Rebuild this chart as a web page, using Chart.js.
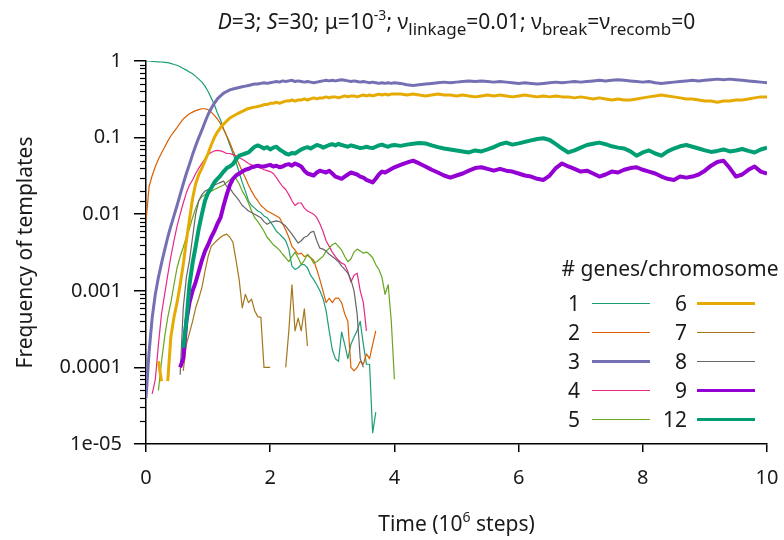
<!DOCTYPE html>
<html><head><meta charset="utf-8">
<script src="https://cdn.jsdelivr.net/npm/chart.js@4.4.1/dist/chart.umd.min.js"></script>
<style>
html,body{margin:0;padding:0;background:#fff;}
#wrap{position:relative;width:784px;height:540px;font-family:"Noto Sans",sans-serif;color:#1a1a1a;overflow:hidden;}
canvas{position:absolute;left:0;top:0;}
.title{position:absolute;left:146px;width:621px;top:6px;text-align:center;font-size:21px;line-height:30px;white-space:nowrap;}
.xtitle{position:absolute;left:146px;width:621px;top:509px;text-align:center;font-size:21px;line-height:28px;white-space:nowrap;}
sup{font-size:14px;line-height:0;vertical-align:9px;}
sub{font-size:17px;line-height:0;vertical-align:-6px;}
.lghead{position:absolute;left:540px;width:260px;top:254px;text-align:center;font-size:21px;line-height:28px;white-space:nowrap;}
.lgnum{position:absolute;text-align:right;font-size:21px;line-height:28px;}
.lgline{position:absolute;}
</style></head>
<body>
<div id="wrap">
<canvas id="c" width="784" height="540"></canvas>
<div class="title"><i>D</i>=3; <i>S</i>=30; μ=10<sup>-3</sup>; ν<sub>linkage</sub>=0.01; ν<sub>break</sub>=ν<sub>recomb</sub>=0</div>
<div class="xtitle">Time (10<sup>6</sup> steps)</div>
<div class="lghead"># genes/chromosome</div>
<div id="legend"></div>
</div>
<script>
// time in units of 10^6 steps
const time = [
0,0.05,0.1,0.15,0.2,0.25,0.3,0.35,0.4,0.45,
0.5,0.55,0.6,0.65,0.7,0.75,0.8,0.85,0.9,0.95,
1,1.05,1.1,1.15,1.2,1.25,1.3,1.35,1.4,1.45,
1.5,1.55,1.6,1.65,1.7,1.75,1.8,1.85,1.9,1.95,
2,2.05,2.1,2.15,2.2,2.25,2.3,2.35,2.4,2.45,
2.5,2.55,2.6,2.65,2.7,2.75,2.8,2.85,2.9,2.95,
3,3.05,3.1,3.15,3.2,3.25,3.3,3.35,3.4,3.45,
3.5,3.55,3.6,3.65,3.7,3.75,3.8,3.85,3.9,3.95,
4,
4.1,4.2,4.3,4.4,4.5,4.6,4.7,4.8,4.9,5,
5.1,5.2,5.3,5.4,5.5,5.6,5.7,5.8,5.9,6,
6.1,6.2,6.3,6.4,6.5,6.6,6.7,6.8,6.9,7,
7.1,7.2,7.3,7.4,7.5,7.6,7.7,7.8,7.9,8,
8.1,8.2,8.3,8.4,8.5,8.6,8.7,8.8,8.9,9,
9.1,9.2,9.3,9.4,9.5,9.6,9.7,9.8,9.9,10];

const g1 = [
1,1,0.99,0.98,0.975,0.97,0.96,0.95,0.93,0.9,
0.88,0.84,0.8,0.76,0.72,0.68,0.63,0.58,0.53,0.47,
0.4,0.33,0.27,0.21,0.17,0.13,0.105,0.08,0.062,0.048,
0.035,0.026,0.02,0.015,0.013,0.012,0.011,0.0105,0.0095,0.009,
0.008,0.007,0.006,0.0055,0.005,0.0045,0.0035,0.0021,0.0019,0.002,
0.0022,0.0022,0.002,0.0016,0.0014,0.0012,0.001,0.0008,0.00055,0.0003,
0.00017,0.00013,0.00012,0.00029,0.0002,0.00013,0.0002,0.00025,0.0003,0.0004,
0.0002,0.00011,0.00011,0.000014,0.000026];

const g2 = [
0.008,0.023,0.032,0.042,0.052,0.063,0.075,0.09,0.105,0.12,
0.135,0.155,0.175,0.19,0.205,0.215,0.225,0.232,0.238,0.238,
0.232,0.215,0.195,0.175,0.152,0.128,0.105,0.086,0.068,0.055,
0.045,0.036,0.03,0.024,0.02,0.017,0.015,0.013,0.012,0.011,
0.0105,0.01,0.0095,0.009,0.0075,0.0062,0.005,0.0038,0.0034,0.003,
0.0031,0.0028,0.0029,0.0027,0.0025,0.0019,0.0014,0.001,0.0007,0.0008,
0.0007,0.0008,0.0008,0.0007,0.0005,0.0004,0.0001,0.00009,0.0001,0.00012,
0.00011,0.00015,0.00013,0.0002,0.0003];

const g3 = [
0.00004,0.00016,0.00045,0.0009,0.0015,0.0023,0.0034,0.005,0.007,0.0095,
0.013,0.018,0.025,0.034,0.045,0.06,0.078,0.1,0.125,0.16,
0.2,0.24,0.28,0.32,0.35,0.38,0.4,0.42,0.43,0.44,
0.45,0.46,0.47,0.48,0.49,0.5,0.5,0.51,0.52,0.51,
0.52,0.53,0.54,0.53,0.55,0.54,0.55,0.56,0.54,0.55,
0.54,0.53,0.54,0.53,0.52,0.53,0.54,0.55,0.56,0.55,
0.56,0.55,0.56,0.57,0.56,0.55,0.54,0.55,0.54,0.53,
0.54,0.53,0.52,0.53,0.52,0.51,0.52,0.51,0.52,0.51,
0.52,
0.51,0.49,0.48,0.49,0.5,0.51,0.52,0.53,0.52,0.53,
0.54,0.55,0.54,0.55,0.54,0.53,0.54,0.53,0.52,0.51,
0.52,0.51,0.5,0.51,0.52,0.53,0.52,0.53,0.54,0.53,
0.54,0.55,0.56,0.55,0.56,0.57,0.56,0.55,0.54,0.53,
0.54,0.52,0.51,0.52,0.53,0.54,0.55,0.56,0.55,0.56,
0.57,0.58,0.57,0.58,0.57,0.56,0.55,0.54,0.53,0.52];

const g4 = [
null,null,0.000045,0.00007,0.0002,0.0005,0.0009,0.0016,0.0028,0.0045,
0.007,0.01,0.014,0.019,0.024,0.028,0.034,0.04,0.046,0.053,
0.06,0.064,0.067,0.068,0.067,0.065,0.062,0.062,0.06,0.058,
0.055,0.052,0.049,0.046,0.044,0.042,0.041,0.04,0.038,0.037,
0.036,0.034,0.03,0.026,0.023,0.021,0.018,0.015,0.013,0.014,
0.014,0.012,0.011,0.0105,0.01,0.009,0.0075,0.006,0.0045,0.0038,
0.0032,0.0028,0.0025,0.0023,0.0022,0.0018,0.0013,0.0016,0.0017,0.001,
0.0007,0.0003];

const g5 = [
null,null,null,null,0.00005,0.00012,0.00025,0.00045,0.0007,0.0012,
0.002,0.0028,0.0037,0.005,0.0065,0.009,0.012,0.015,0.017,0.018,
0.019,0.02,0.021,0.022,0.023,0.024,0.026,0.028,0.03,0.029,
0.025,0.02,0.017,0.014,0.011,0.009,0.008,0.007,0.006,0.005,
0.0045,0.004,0.0037,0.0034,0.003,0.0027,0.0024,0.0028,0.0032,0.0027,
0.0022,0.0025,0.003,0.0027,0.0023,0.0024,0.0026,0.0028,0.0033,0.0036,
0.004,0.0042,0.0038,0.0034,0.0028,0.0024,0.0026,0.0032,0.0035,0.0033,
0.0031,0.0032,0.003,0.0027,0.0022,0.0019,0.0015,0.0009,0.0012,0.0004,
0.00007];

const g6 = [
null,null,null,null,0.00012,0.000066,null,0.000066,0.00025,0.00045,
0.0007,0.0012,0.0022,0.0045,0.0085,0.016,0.025,0.033,0.04,0.05,
0.062,0.08,0.1,0.118,0.135,0.15,0.165,0.18,0.19,0.2,
0.21,0.22,0.23,0.24,0.245,0.25,0.255,0.26,0.27,0.27,
0.28,0.28,0.29,0.28,0.29,0.3,0.3,0.31,0.3,0.31,
0.31,0.32,0.31,0.32,0.33,0.32,0.33,0.33,0.34,0.33,
0.34,0.34,0.33,0.34,0.35,0.34,0.35,0.35,0.34,0.35,
0.36,0.35,0.36,0.35,0.36,0.37,0.36,0.37,0.36,0.37,
0.37,
0.37,0.36,0.37,0.36,0.35,0.36,0.37,0.36,0.36,0.35,
0.36,0.35,0.34,0.35,0.36,0.35,0.36,0.35,0.34,0.35,
0.36,0.35,0.34,0.35,0.34,0.35,0.34,0.34,0.33,0.34,
0.33,0.32,0.33,0.32,0.31,0.32,0.31,0.31,0.32,0.33,
0.34,0.35,0.36,0.35,0.34,0.33,0.32,0.32,0.31,0.3,
0.3,0.29,0.3,0.3,0.31,0.31,0.32,0.33,0.34,0.34];

const g7 = [
null,null,null,null,null,null,null,null,null,null,
null,null,0.00009,0.0002,0.00028,0.0004,0.0006,0.0008,0.0011,0.0018,
0.0028,0.0038,0.0042,0.0046,0.005,0.0053,0.0055,0.005,0.0043,0.0025,
0.0014,0.0006,0.0009,0.0007,0.00078,0.00055,0.00046,0.00045,0.0001,0.0001,
0.0001,null,null,null,null,0.0001,0.0003,0.0012,0.0003,0.00044,
0.0003,0.00058,0.00019];

const g8 = [
null,null,null,null,null,null,null,null,null,null,
null,0.00008,0.0006,0.0015,0.0025,0.005,0.01,0.015,0.018,0.02,
0.021,0.022,0.024,0.025,0.026,0.027,0.023,0.022,0.019,0.017,
0.015,0.013,0.012,0.011,0.0105,0.01,0.0095,0.009,0.008,0.0074,
0.0078,0.008,0.0082,0.008,0.0075,0.007,0.0062,0.0055,0.0048,0.0042,
0.0045,0.005,0.0052,0.0058,0.006,0.0045,0.0036,0.0035,0.0033,0.003,
0.0028,0.0026,0.0024,0.0021,0.0019,0.0017,0.0014,0.001,0.0005,0.00013,
0.0001];

const g9 = [
null,null,null,null,null,null,null,null,null,null,
null,0.0001,0.00013,0.0004,0.0007,0.001,0.0013,0.0018,0.0025,0.0033,
0.004,0.005,0.006,0.0075,0.009,0.013,0.018,0.024,0.029,0.032,
0.034,0.036,0.038,0.039,0.041,0.042,0.043,0.042,0.042,0.043,
0.044,0.042,0.043,0.041,0.042,0.044,0.045,0.043,0.046,0.044,
0.042,0.037,0.034,0.033,0.032,0.035,0.037,0.036,0.035,0.037,
0.034,0.031,0.03,0.029,0.031,0.033,0.035,0.034,0.033,0.031,
0.03,0.028,0.027,0.026,0.029,0.033,0.036,0.035,0.037,0.039,
0.041,
0.044,0.047,0.05,0.046,0.042,0.038,0.035,0.032,0.03,0.032,
0.034,0.037,0.04,0.041,0.039,0.037,0.039,0.037,0.036,0.034,
0.032,0.031,0.029,0.028,0.032,0.04,0.046,0.042,0.039,0.036,
0.037,0.034,0.031,0.033,0.036,0.035,0.038,0.04,0.041,0.038,
0.036,0.034,0.031,0.029,0.028,0.031,0.03,0.031,0.033,0.037,
0.043,0.048,0.05,0.04,0.031,0.033,0.038,0.042,0.036,0.034];

const g12 = [
null,null,null,null,null,null,null,null,null,null,
null,null,0.00018,0.0004,0.0012,0.0023,0.0038,0.0065,0.01,0.015,
0.019,0.022,0.026,0.029,0.032,0.036,0.04,0.042,0.045,0.052,
0.058,0.06,0.062,0.064,0.07,0.076,0.079,0.076,0.072,0.075,
0.07,0.074,0.076,0.07,0.066,0.062,0.06,0.063,0.062,0.066,
0.07,0.073,0.075,0.072,0.076,0.08,0.078,0.074,0.077,0.08,
0.082,0.079,0.083,0.08,0.078,0.076,0.079,0.077,0.075,0.073,
0.074,0.076,0.074,0.073,0.076,0.079,0.081,0.078,0.076,0.079,
0.08,
0.078,0.081,0.083,0.085,0.084,0.079,0.075,0.072,0.07,0.068,
0.066,0.064,0.068,0.066,0.07,0.075,0.082,0.086,0.081,0.084,
0.088,0.092,0.096,0.098,0.093,0.082,0.072,0.064,0.068,0.074,
0.08,0.083,0.086,0.082,0.077,0.074,0.072,0.066,0.058,0.064,
0.068,0.062,0.058,0.066,0.072,0.077,0.08,0.076,0.072,0.068,
0.065,0.067,0.07,0.066,0.068,0.071,0.067,0.064,0.07,0.074];

const seriesLabels = ['1','2','3','4','5','6','7','8','9','12'];
const seriesValues = [g1,g2,g3,g4,g5,g6,g7,g8,g9,g12];
const yTickLabels = ['1e-05','0.0001','0.001','0.01','0.1','1'];
const xTickStep = 2;

// styles
const seriesColors = ['#1b9e77','#d95f02','#7570b3','#e7298a','#66a61e','#e6ab02','#a6761d','#666666','#9400d3','#009e73'];
const seriesWidths = [1.2,1.2,3,1.2,1.2,3,1.2,1.2,4,4];
const FONT = {family:'"Noto Sans", sans-serif', size:20};
const TFONT = {family:'"Noto Sans", sans-serif', size:21};
const TXT = '#1a1a1a';

const isMajor = v => Math.abs(Math.log10(v) - Math.round(Math.log10(v))) < 1e-6;

const datasets = seriesValues.map((vals,i)=>({
  label: seriesLabels[i],
  data: vals.map((v,j)=>({x: time[j], y: v})),
  borderColor: seriesColors[i],
  borderWidth: seriesWidths[i],
  pointRadius: 0,
  fill: false,
  spanGaps: false,
  tension: 0,
  order: seriesValues.length - i
}));

const minorTicks = {
  id:'minorTicks',
  afterDraw(chart){
    const ys = chart.scales.y, c = chart.ctx, x0 = chart.chartArea.left;
    c.save(); c.strokeStyle = '#000'; c.lineWidth = 1.2;
    ys.ticks.forEach(t => {
      if (!isMajor(t.value)) {
        const p = Math.round(ys.getPixelForValue(t.value)) + 0.5;
        c.beginPath(); c.moveTo(x0 - 6, p); c.lineTo(x0, p); c.stroke();
      }
    });
    c.restore();
  }
};

new Chart(document.getElementById('c'), {
  type: 'line',
  data: { datasets },
  options: {
    responsive: false, animation: false, devicePixelRatio: 1,
    layout: { padding: { left: 0, right: 17, top: 61, bottom: 0 } },
    plugins: { legend: { display: false }, tooltip: { enabled: false }, title: { display: false } },
    elements: { point: { radius: 0 }, line: { tension: 0, borderJoinStyle: 'round' } },
    scales: {
      x: {
        type: 'linear', min: 0, max: 10,
        ticks: { stepSize: xTickStep, color: TXT, font: FONT, padding: 14, maxRotation: 0 },
        grid: { drawOnChartArea: false, drawTicks: true, tickLength: 8, color: '#000', lineWidth: 1.5 },
        border: { color: '#000', width: 1.5 },
        afterFit: s => { s.height = 96; s.paddingLeft = 0; s.paddingRight = 0; }
      },
      y: {
        type: 'logarithmic', min: 1e-5, max: 1,
        ticks: { autoSkip: false, color: TXT, font: FONT, padding: 12,
          callback: v => isMajor(v) ? yTickLabels[Math.round(Math.log10(v)) + 5] : '' },
        grid: { drawOnChartArea: false, drawTicks: true, tickLength: 12,
          color: c => (c.tick && isMajor(c.tick.value)) ? '#000' : 'rgba(0,0,0,0)', lineWidth: 1.5 },
        border: { color: '#000', width: 1.5 },
        title: { display: true, text: 'Frequency of templates', color: TXT, font: TFONT, padding: { top: 13, bottom: 0 } },
        afterFit: s => { s.width = 146; s.paddingTop = 0; s.paddingBottom = 0; }
      }
    }
  },
  plugins: [minorTicks]
});

// legend
const lg = document.getElementById('legend');
const rowY = [303, 332, 361, 390, 419];
seriesLabels.forEach((lab, i) => {
  const col = i < 5 ? 0 : 1, row = i % 5;
  const num = document.createElement('div');
  num.className = 'lgnum';
  num.textContent = lab;
  num.style.left = (col ? 627 : 520) + 'px';
  num.style.width = '60px';
  num.style.top = (rowY[row] - 14) + 'px';
  lg.appendChild(num);
  const ln = document.createElement('div');
  ln.className = 'lgline';
  const h = seriesWidths[i] > 2 ? 3 : 1;
  ln.style.left = (col ? 697 : 592) + 'px';
  ln.style.width = '58px';
  ln.style.height = h + 'px';
  ln.style.top = (rowY[row] - h / 2) + 'px';
  ln.style.background = seriesColors[i];
  lg.appendChild(ln);
});
</script>
</body></html>
